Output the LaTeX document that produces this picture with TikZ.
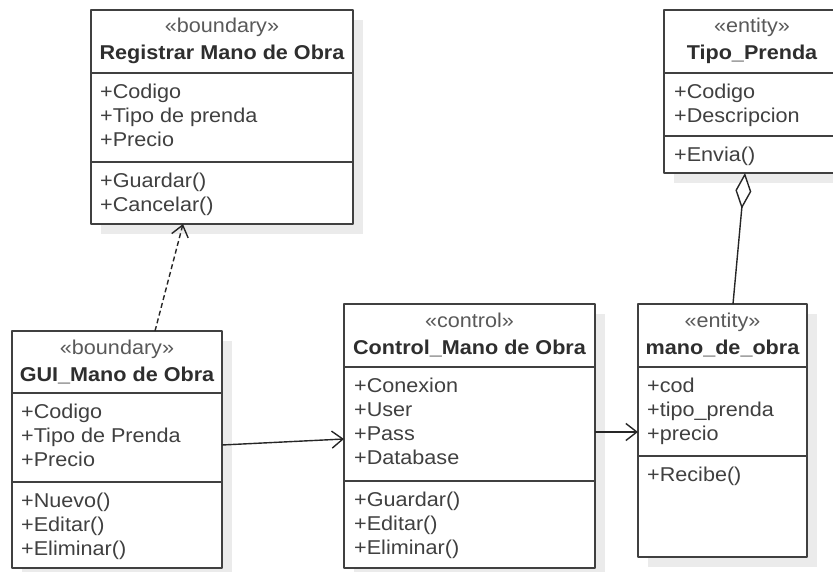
\documentclass[tikz,border=0pt]{standalone}
\usepackage{fontspec}
\setmainfont[FakeStretch=1.08]{Liberation Sans}
\usetikzlibrary{arrows.meta,shadows,calc}

\begin{document}
\begin{tikzpicture}[x=1pt,y=-1pt,line join=round]
    \tikzstyle{classbox}=[draw=black!75,line width=1.6pt,fill=white,inner sep=0pt,outer sep=0pt,
        drop shadow={shadow xshift=10pt,shadow yshift=-10pt,fill=black!8,opacity=1}]
    \tikzstyle{stereo}=[anchor=base,inner sep=0pt,text=black!65,font=\fontsize{20}{24}\selectfont]
    \tikzstyle{cname}=[anchor=base,inner sep=0pt,text=black!82,font=\fontsize{20}{24}\selectfont\bfseries]
    \tikzstyle{members}=[anchor=north west,inner sep=0pt,align=left,text=black!75,font=\fontsize{20}{24}\selectfont]
    \tikzstyle{compline}=[draw=black!75,line width=1.6pt]
    \tikzstyle{assoc}=[draw=black!85,line width=1.4pt,-{Straight Barb[length=11pt,width=17pt]}]
    \useasboundingbox (0,0) rectangle (833,572);

    \path
    % Boundary classes
    (222,117)   node[classbox,minimum width=262pt,minimum height=214pt] (reg) {}
    (117,449.5) node[classbox,minimum width=210pt,minimum height=237pt] (gui) {}

    % Control class
    (469.5,436) node[classbox,minimum width=251pt,minimum height=264pt] (ctrl) {}

    % Entity classes
    (752,91.5)  node[classbox,minimum width=176pt,minimum height=163pt] (tipo) {}
    (722.5,430.5) node[classbox,minimum width=169pt,minimum height=253pt] (mano) {};

    % Compartment lines
    \draw[compline] ($(reg.north west)+(0,63)$) -- ($(reg.north east)+(0,63)$);
    \draw[compline] ($(reg.north west)+(0,152)$) -- ($(reg.north east)+(0,152)$);
    \draw[compline] ($(gui.north west)+(0,62)$) -- ($(gui.north east)+(0,62)$);
    \draw[compline] ($(gui.north west)+(0,151)$) -- ($(gui.north east)+(0,151)$);
    \draw[compline] ($(ctrl.north west)+(0,63)$) -- ($(ctrl.north east)+(0,63)$);
    \draw[compline] ($(ctrl.north west)+(0,177)$) -- ($(ctrl.north east)+(0,177)$);
    \draw[compline] ($(tipo.north west)+(0,63)$) -- ($(tipo.north east)+(0,63)$);
    \draw[compline] ($(tipo.north west)+(0,126)$) -- ($(tipo.north east)+(0,126)$);
    \draw[compline] ($(mano.north west)+(0,63)$) -- ($(mano.north east)+(0,63)$);
    \draw[compline] ($(mano.north west)+(0,152)$) -- ($(mano.north east)+(0,152)$);

    % Registrar Mano de Obra
    \node[stereo] (reg-st) at ([yshift=-23pt]reg.north) {«boundary»};
    \node[cname] (reg-name) at ([yshift=-50pt]reg.north) {Registrar Mano de Obra};
    \node[members] (reg-attr) at ($(reg.north west)+(9,73.5)$) {+Codigo\\+Tipo de prenda\\+Precio};
    \node[members] (reg-ops) at ($(reg.north west)+(9,162.5)$) {+Guardar()\\+Cancelar()};

    % GUI_Mano de Obra
    \node[stereo] (gui-st) at ([yshift=-23pt]gui.north) {«boundary»};
    \node[cname] (gui-name) at ([yshift=-50pt]gui.north) {GUI\_Mano de Obra};
    \node[members] (gui-attr) at ($(gui.north west)+(9,72.5)$) {+Codigo\\+Tipo de Prenda\\+Precio};
    \node[members] (gui-ops) at ($(gui.north west)+(9,161.5)$) {+Nuevo()\\+Editar()\\+Eliminar()};

    % Control_Mano de Obra
    \node[stereo] (ctrl-st) at ([yshift=-23pt]ctrl.north) {«control»};
    \node[cname] (ctrl-name) at ([yshift=-50pt]ctrl.north) {Control\_Mano de Obra};
    \node[members] (ctrl-attr) at ($(ctrl.north west)+(10,73.5)$) {+Conexion\\+User\\+Pass\\+Database};
    \node[members] (ctrl-ops) at ($(ctrl.north west)+(10,187.5)$) {+Guardar()\\+Editar()\\+Eliminar()};

    % Tipo_Prenda
    \node[stereo] (tipo-st) at ([yshift=-23pt]tipo.north) {«entity»};
    \node[cname] (tipo-name) at ([yshift=-50pt]tipo.north) {Tipo\_Prenda};
    \node[members] (tipo-attr) at ($(tipo.north west)+(10,73.5)$) {+Codigo\\+Descripcion};
    \node[members] (tipo-ops) at ($(tipo.north west)+(10,136.5)$) {+Envia()};

    % mano_de_obra
    \node[stereo] (mano-st) at ([yshift=-23pt]mano.north) {«entity»};
    \node[cname] (mano-name) at ([yshift=-50pt]mano.north) {mano\_de\_obra};
    \node[members] (mano-attr) at ($(mano.north west)+(9,73.5)$) {+cod\\+tipo\_prenda\\+precio};
    \node[members] (mano-ops) at ($(mano.north west)+(9,162.5)$) {+Recibe()};

    % Link the classes
    \draw[assoc,dash pattern=on 5pt off 3pt] ([xshift=38pt]gui.north) -- ([xshift=-39pt]reg.south);
    \draw[assoc] ([yshift=4.5pt]gui.east) -- ([yshift=-3pt]ctrl.west);
    \draw[assoc] ([yshift=4pt]ctrl.east) -- ([yshift=4pt]ctrl.east -| mano.west);
    \draw[draw=black!85,line width=1.4pt,-{Diamond[fill=white,length=36pt,width=16pt]}]
        ([xshift=10.5pt]mano.north) -- ([xshift=-7pt]tipo.south);
\end{tikzpicture}
\end{document}
